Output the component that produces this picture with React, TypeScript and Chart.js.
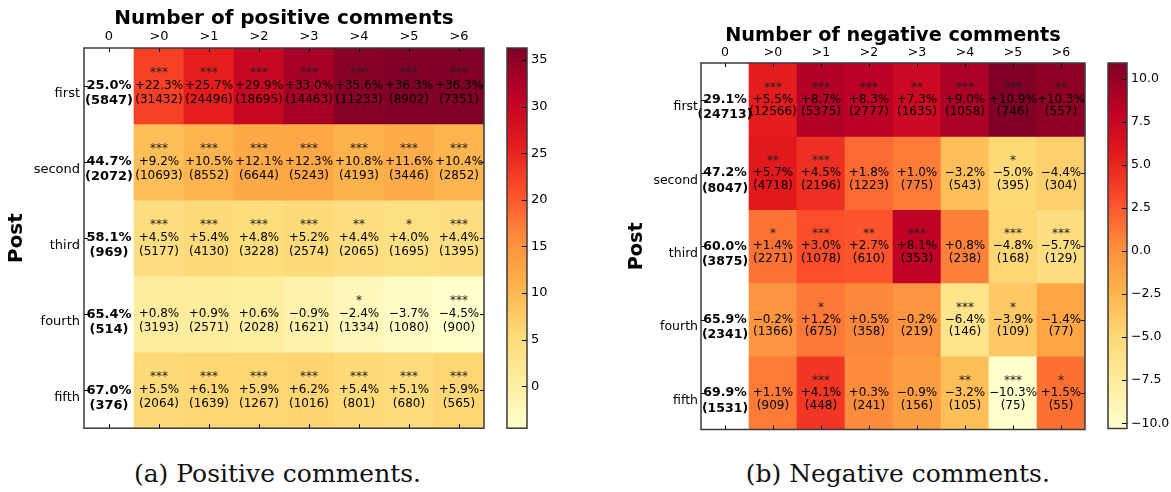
import React, { useEffect, useRef } from 'react';
import { Chart, registerables } from 'chart.js';

Chart.register(...registerables);

// ---- data -----------------------------------------------------------------

const columnLabels = ['0', '>0', '>1', '>2', '>3', '>4', '>5', '>6'];
const rowLabels = ['first', 'second', 'third', 'fourth', 'fifth'];

// Positive comments: base rate for "0" column, then change per threshold
const posBaseRate = [25.0, 44.7, 58.1, 65.4, 67.0];
const posBaseCount = [5847, 2072, 969, 514, 376];
const posChange = [
  [22.3, 25.7, 29.9, 33.0, 35.6, 36.3, 36.3],
  [9.2, 10.5, 12.1, 12.3, 10.8, 11.6, 10.4],
  [4.5, 5.4, 4.8, 5.2, 4.4, 4.0, 4.4],
  [0.8, 0.9, 0.6, -0.9, -2.4, -3.7, -4.5],
  [5.5, 6.1, 5.9, 6.2, 5.4, 5.1, 5.9],
];
const posCount = [
  [31432, 24496, 18695, 14463, 11233, 8902, 7351],
  [10693, 8552, 6644, 5243, 4193, 3446, 2852],
  [5177, 4130, 3228, 2574, 2065, 1695, 1395],
  [3193, 2571, 2028, 1621, 1334, 1080, 900],
  [2064, 1639, 1267, 1016, 801, 680, 565],
];
const posStars = [
  ['***', '***', '***', '***', '***', '***', '***'],
  ['***', '***', '***', '***', '***', '***', '***'],
  ['***', '***', '***', '***', '**', '*', '***'],
  ['', '', '', '', '*', '', '***'],
  ['***', '***', '***', '***', '***', '***', '***'],
];
const posColorbarTicks = [0, 5, 10, 15, 20, 25, 30, 35];

// Negative comments
const negBaseRate = [29.1, 47.2, 60.0, 65.9, 69.9];
const negBaseCount = [24713, 8047, 3875, 2341, 1531];
const negChange = [
  [5.5, 8.7, 8.3, 7.3, 9.0, 10.9, 10.3],
  [5.7, 4.5, 1.8, 1.0, -3.2, -5.0, -4.4],
  [1.4, 3.0, 2.7, 8.1, 0.8, -4.8, -5.7],
  [-0.2, 1.2, 0.5, -0.2, -6.4, -3.9, -1.4],
  [1.1, 4.1, 0.3, -0.9, -3.2, -10.3, 1.5],
];
const negCount = [
  [12566, 5375, 2777, 1635, 1058, 746, 557],
  [4718, 2196, 1223, 775, 543, 395, 304],
  [2271, 1078, 610, 353, 238, 168, 129],
  [1366, 675, 358, 219, 146, 109, 77],
  [909, 448, 241, 156, 105, 75, 55],
];
const negStars = [
  ['***', '***', '***', '**', '***', '***', '**'],
  ['**', '***', '', '', '', '*', ''],
  ['*', '***', '**', '***', '', '***', '***'],
  ['', '*', '', '', '***', '*', ''],
  ['', '***', '', '', '**', '***', '*'],
];
const negColorbarTicks = [-10, -7.5, -5, -2.5, 0, 2.5, 5, 7.5, 10];

// ---- colour map (YlOrRd) ----------------------------------------------------

const ylOrRd = [
  '#ffffcc', '#ffeda0', '#fed976', '#feb24c', '#fd8d3c',
  '#fc4e2a', '#e31a1c', '#bd0026', '#800026',
];

function hexToRgb(h: string) {
  return [1, 3, 5].map((i) => parseInt(h.slice(i, i + 2), 16));
}

function colorAt(t: number) {
  const tt = Math.min(1, Math.max(0, t)) * (ylOrRd.length - 1);
  const i = Math.min(ylOrRd.length - 2, Math.floor(tt));
  const f = tt - i;
  const a = hexToRgb(ylOrRd[i]);
  const b = hexToRgb(ylOrRd[i + 1]);
  const c = a.map((v, k) => Math.round(v + (b[k] - v) * f));
  return `rgb(${c[0]},${c[1]},${c[2]})`;
}

const MINUS = '\u2212';
const fmtSigned = (v: number) => (v < 0 ? MINUS : '+') + Math.abs(v).toFixed(1) + '%';
const fmtTick = (v: number, decimals: number) =>
  (v < 0 ? MINUS : '') + Math.abs(v).toFixed(decimals);

const FONT = '"DejaVu Sans"';

// ---- panel definitions ------------------------------------------------------

type PanelData = {
  title: string;
  caption: string;
  baseRate: number[];
  baseCount: number[];
  change: number[][];
  count: number[][];
  stars: string[][];
  cbTicks: number[];
  cbDecimals: number;
};

type PanelLayout = {
  left: number; width: number; height: number;
  padRight: number; padBottom: number;
  axisW: number; axisH: number;
  titleSize: number; titlePad: number; postPad: number;
  tickSize: number; xTickPad: number; yTickPad: number;
  cellSize: number; boldSize: number;
  starDy: number; countDy: number; boldDy: number;
  barLeft: number; barWidth: number; barPadLeft: number; barPadTop: number; barPadBottom: number;
  barThickness: number;
  captionX: number;
};

const positiveData: PanelData = {
  title: 'Number of positive comments',
  caption: '(a) Positive comments.',
  baseRate: posBaseRate,
  baseCount: posBaseCount,
  change: posChange,
  count: posCount,
  stars: posStars,
  cbTicks: posColorbarTicks,
  cbDecimals: 0,
};

const negativeData: PanelData = {
  title: 'Number of negative comments',
  caption: '(b) Negative comments.',
  baseRate: negBaseRate,
  baseCount: negBaseCount,
  change: negChange,
  count: negCount,
  stars: negStars,
  cbTicks: negColorbarTicks,
  cbDecimals: 1,
};

const positiveLayout: PanelLayout = {
  left: 0, width: 500, height: 440, padRight: 16, padBottom: 7,
  axisW: 84, axisH: 48,
  titleSize: 20, titlePad: 7, postPad: 5,
  tickSize: 13, xTickPad: 4, yTickPad: 4,
  cellSize: 12, boldSize: 13,
  starDy: -13, countDy: 13.5, boldDy: 15,
  barLeft: 480, barWidth: 80, barPadLeft: 27, barPadTop: 48, barPadBottom: 7,
  barThickness: 20,
  captionX: 277.5,
};

const negativeLayout: PanelLayout = {
  left: 590, width: 510, height: 440, padRight: 15, padBottom: 7,
  axisW: 111, axisH: 63,
  titleSize: 19.3, titlePad: 24, postPad: 35.5,
  tickSize: 12.5, xTickPad: 3, yTickPad: 3,
  cellSize: 12, boldSize: 12.5,
  starDy: -12, countDy: 12.7, boldDy: 15.5,
  barLeft: 1090, barWidth: 81, barPadLeft: 18, barPadTop: 63, barPadBottom: 8,
  barThickness: 19,
  captionX: 897.8,
};

// ---- plugins ----------------------------------------------------------------

function drawFrame(ctx: CanvasRenderingContext2D, a: any) {
  ctx.strokeStyle = '#3a3a3a';
  ctx.lineWidth = 1.5;
  ctx.strokeRect(a.left, a.top, a.right - a.left, a.bottom - a.top);
}

function makeCellPlugin(d: PanelData, L: PanelLayout) {
  return {
    id: 'cellText',
    afterDatasetsDraw(chart: any) {
      const { ctx, chartArea: a, scales } = chart;
      const x = scales.x;
      const y = scales.y;
      ctx.save();
      ctx.textAlign = 'center';
      ctx.textBaseline = 'middle';
      rowLabels.forEach((_, r) => {
        const cy = y.getPixelForValue(r + 0.5);
        const cx0 = x.getPixelForValue(0);
        ctx.fillStyle = '#000';
        ctx.font = `bold ${L.boldSize}px ${FONT}`;
        ctx.fillText(`${d.baseRate[r].toFixed(1)}%`, cx0, cy);
        ctx.fillText(`(${d.baseCount[r]})`, cx0, cy + L.boldDy);
        d.change[r].forEach((v, c) => {
          const cx = x.getPixelForValue(c + 1);
          ctx.font = `${L.cellSize}px ${FONT}`;
          if (d.stars[r][c]) {
            ctx.fillStyle = '#222';
            ctx.fillText(d.stars[r][c], cx, cy + L.starDy);
          }
          ctx.fillStyle = '#000';
          ctx.fillText(fmtSigned(v), cx, cy);
          ctx.fillText(`(${d.count[r][c]})`, cx, cy + L.countDy);
        });
      });

      // inward tick marks on all four sides
      ctx.strokeStyle = '#000';
      ctx.lineWidth = 1;
      const tl = 4;
      columnLabels.forEach((_, c) => {
        const px = Math.round(x.getPixelForValue(c)) + 0.5;
        ctx.beginPath();
        ctx.moveTo(px, a.top); ctx.lineTo(px, a.top + tl);
        ctx.moveTo(px, a.bottom); ctx.lineTo(px, a.bottom - tl);
        ctx.stroke();
      });
      rowLabels.forEach((_, r) => {
        const py = Math.round(y.getPixelForValue(r + 0.5)) + 0.5;
        ctx.beginPath();
        ctx.moveTo(a.left, py); ctx.lineTo(a.left + tl, py);
        ctx.moveTo(a.right, py); ctx.lineTo(a.right - tl, py);
        ctx.stroke();
      });
      drawFrame(ctx, a);
      ctx.restore();
    },
  };
}

function makeColorbarPlugin(d: PanelData) {
  return {
    id: 'colorbarFrame',
    afterDatasetsDraw(chart: any) {
      const { ctx, chartArea: a, scales } = chart;
      ctx.save();
      ctx.strokeStyle = '#000';
      ctx.lineWidth = 1;
      d.cbTicks.forEach((t) => {
        const py = Math.round(scales.y.getPixelForValue(t)) + 0.5;
        ctx.beginPath();
        ctx.moveTo(a.right, py);
        ctx.lineTo(a.right - 5, py);
        ctx.stroke();
      });
      drawFrame(ctx, a);
      ctx.restore();
    },
  };
}

// ---- components -------------------------------------------------------------

function HeatmapPanel({ d, L }: { d: PanelData; L: PanelLayout }) {
  const heatRef = useRef<HTMLCanvasElement>(null);
  const barRef = useRef<HTMLCanvasElement>(null);

  useEffect(() => {
    const flat = d.change.flat();
    const vmin = Math.min(...flat);
    const vmax = Math.max(...flat);
    const norm = (v: number) => (v - vmin) / (vmax - vmin);

    const datasets = rowLabels.map((name, r) => ({
      label: name,
      data: columnLabels.map(() => [r, r + 1]),
      backgroundColor: columnLabels.map((_, c) =>
        c === 0 ? '#ffffff' : colorAt(norm(d.change[r][c - 1]))
      ),
      borderWidth: 0,
      grouped: false,
      barPercentage: 1,
      categoryPercentage: 1,
    }));

    const heat = new Chart(heatRef.current!, {
      type: 'bar',
      data: { labels: columnLabels, datasets: datasets as any },
      options: {
        animation: false,
        responsive: false,
        events: [],
        layout: { padding: { left: 0, top: 0, right: L.padRight, bottom: L.padBottom } },
        plugins: { legend: { display: false }, tooltip: { enabled: false } },
        scales: {
          x: {
            type: 'category',
            position: 'top',
            grid: { display: false, drawTicks: false, tickLength: 0 },
            border: { display: false },
            ticks: {
              color: '#000',
              font: { family: FONT, size: L.tickSize },
              padding: L.xTickPad,
              maxRotation: 0,
              autoSkip: false,
            },
            title: {
              display: true,
              text: d.title,
              color: '#000',
              font: { family: FONT, size: L.titleSize, weight: 'bold' },
              padding: { top: L.titlePad, bottom: 0 },
            },
            afterFit: (s: any) => { s.height = L.axisH; },
          },
          y: {
            type: 'linear',
            min: 0,
            max: rowLabels.length,
            reverse: true,
            position: 'left',
            grid: { display: false, drawTicks: false, tickLength: 0 },
            border: { display: false },
            ticks: {
              color: '#000',
              font: { family: FONT, size: L.tickSize },
              padding: L.yTickPad,
              labelOffset: 7.5,
              callback: (_v: any, i: number) => rowLabels[i],
            },
            afterBuildTicks: (s: any) => {
              s.ticks = rowLabels.map((_, i) => ({ value: i + 0.5 }));
            },
            title: {
              display: true,
              text: 'Post',
              color: '#000',
              font: { family: FONT, size: L.titleSize, weight: 'bold' },
              padding: { top: L.postPad, bottom: 0 },
            },
            afterFit: (s: any) => { s.width = L.axisW; },
          },
        },
      } as any,
      plugins: [makeCellPlugin(d, L)],
    });

    const bar = new Chart(barRef.current!, {
      type: 'bar',
      data: {
        labels: [''],
        datasets: [
          {
            data: [[vmin, vmax]] as any,
            borderWidth: 0,
            barPercentage: 1,
            categoryPercentage: 1,
            backgroundColor: (c: any) => {
              const ch = c.chart;
              if (!ch.chartArea) return ylOrRd[4];
              const ys = ch.scales.y;
              const g = ch.ctx.createLinearGradient(
                0, ys.getPixelForValue(vmin), 0, ys.getPixelForValue(vmax)
              );
              ylOrRd.forEach((col, i) => g.addColorStop(i / (ylOrRd.length - 1), col));
              return g;
            },
          },
        ],
      },
      options: {
        animation: false,
        responsive: false,
        events: [],
        layout: {
          padding: { left: L.barPadLeft, top: L.barPadTop, right: 0, bottom: L.barPadBottom },
        },
        plugins: { legend: { display: false }, tooltip: { enabled: false } },
        scales: {
          x: { display: false },
          y: {
            type: 'linear',
            position: 'right',
            min: vmin,
            max: vmax,
            grid: { display: false, drawTicks: false, tickLength: 0 },
            border: { display: false },
            ticks: {
              color: '#000',
              font: { family: FONT, size: L.tickSize },
              padding: 4,
              callback: (v: any) => fmtTick(Number(v), d.cbDecimals),
            },
            afterBuildTicks: (s: any) => {
              s.ticks = d.cbTicks.map((v) => ({ value: v }));
            },
            afterFit: (s: any) => {
              s.width = L.barWidth - L.barPadLeft - L.barThickness;
            },
          },
        },
      } as any,
      plugins: [makeColorbarPlugin(d)],
    });

    return () => {
      heat.destroy();
      bar.destroy();
    };
  }, [d, L]);

  return (
    <>
      <canvas
        ref={heatRef}
        width={L.width}
        height={L.height}
        style={{ position: 'absolute', left: L.left, top: 0 }}
      />
      <canvas
        ref={barRef}
        width={L.barWidth}
        height={L.height}
        style={{ position: 'absolute', left: L.barLeft, top: 0 }}
      />
      <div
        style={{
          position: 'absolute',
          left: L.captionX - 250,
          width: 500,
          top: 459,
          textAlign: 'center',
          fontFamily: '"DejaVu Serif"',
          fontSize: 25,
          lineHeight: '29px',
          color: '#111',
          whiteSpace: 'nowrap',
        }}
      >
        {d.caption}
      </div>
    </>
  );
}

export default function App() {
  return (
    <div
      style={{
        position: 'absolute',
        left: 0,
        top: 0,
        width: 1171,
        height: 492,
        background: '#fff',
        overflow: 'hidden',
      }}
    >
      <HeatmapPanel d={positiveData} L={positiveLayout} />
      <HeatmapPanel d={negativeData} L={negativeLayout} />
    </div>
  );
}
